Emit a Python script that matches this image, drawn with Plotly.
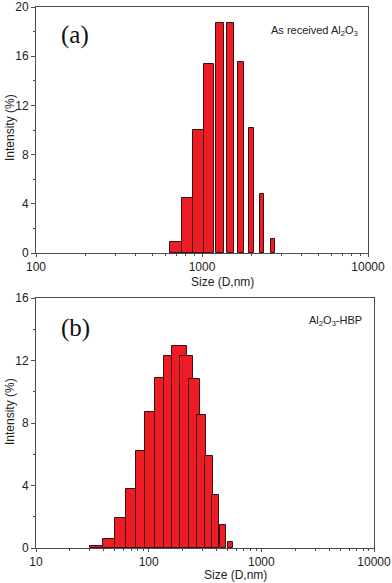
import plotly.graph_objects as go

# Panel (a): as received Al2O3
size_a = [712.4, 825.0, 955.4, 1106, 1281, 1484, 1718, 1990, 2305, 2669]
intensity_a = [0.9, 4.5, 10.0, 15.4, 18.7, 18.7, 15.5, 10.2, 4.8, 1.1]

# Panel (b): Al2O3-HBP
size_b = [58.77, 68.06, 78.82, 91.28, 105.7, 122.4, 141.8, 164.2, 190.1, 220.2,
          255.0, 295.3, 342.0, 396.1, 458.7, 531.2]
intensity_b = [0.1, 0.6, 1.9, 3.8, 6.2, 8.7, 10.9, 12.3, 12.9, 12.3,
               10.8, 8.5, 5.9, 3.4, 1.5, 0.4]

x_ticks_a = [100, 1000, 10000]
x_ticks_b = [10, 100, 1000, 10000]

BAR_FILL = "#EE1C25"
BAR_LINE = "#3a1010"
AXIS_COL = "#4d4d4d"
TXT = "#222222"
FONT = "Liberation Sans, Arial, sans-serif"
SERIF = "Liberation Serif, Times New Roman, serif"

fig = go.Figure()
fig.add_trace(go.Bar(x=size_a, y=intensity_a, width=145, xaxis="x", yaxis="y",
                     marker=dict(color=BAR_FILL, line=dict(color=BAR_LINE, width=1)),
                     showlegend=False))
fig.add_trace(go.Bar(x=size_b, y=intensity_b, width=57.4, xaxis="x2", yaxis="y2",
                     marker=dict(color=BAR_FILL, line=dict(color=BAR_LINE, width=1)),
                     showlegend=False))


def minor_vals(lo, hi):
    out = []
    for e in range(lo, hi):
        for k in range(2, 10):
            out.append(k * 10 ** e)
    return out


common_x = dict(type="log", showline=True, linecolor=AXIS_COL, linewidth=1, mirror=True,
                ticks="outside", ticklen=3, tickcolor=AXIS_COL, showgrid=False, zeroline=False,
                automargin=False, tickfont=dict(family=FONT, size=12, color=TXT))
common_y = dict(showline=True, linecolor=AXIS_COL, linewidth=1, mirror=True,
                ticks="outside", ticklen=4, tickcolor=AXIS_COL, showgrid=False, zeroline=False,
                automargin=False, tickfont=dict(family=FONT, size=12, color=TXT), dtick=4, tick0=0,
                minor=dict(ticks="outside", ticklen=2, dtick=2, tick0=0, tickcolor=AXIS_COL))

L, R, T, B = 36, 18, 7, 35
PW = 392 - L - R
PH = 583 - T - B


def px(x):
    return (x - L) / PW


def py(y):
    return (583 - B - y) / PH


fig.update_layout(
    width=392, height=583,
    margin=dict(l=L, r=R, t=T, b=B),
    plot_bgcolor="white", paper_bgcolor="white",
    bargap=0,
    xaxis=dict(common_x, domain=[0, px(368)], range=[2, 4], anchor="y",
               tickmode="array", tickvals=x_ticks_a, ticktext=[str(v) for v in x_ticks_a],
               minor=dict(ticks="outside", ticklen=2, tickcolor=AXIS_COL,
                          tickmode="array", tickvals=minor_vals(2, 4))),
    yaxis=dict(common_y, domain=[py(253), 1], range=[0, 20], anchor="x"),
    xaxis2=dict(common_x, domain=[0, 1], range=[1, 4], anchor="y2",
                tickmode="array", tickvals=x_ticks_b, ticktext=[str(v) for v in x_ticks_b],
                minor=dict(ticks="outside", ticklen=2, tickcolor=AXIS_COL,
                           tickmode="array", tickvals=minor_vals(1, 4))),
    yaxis2=dict(common_y, domain=[0, py(298)], range=[0, 16], anchor="x2"),
)

tfont = dict(family=FONT, size=12, color=TXT)
ann = [
    dict(text="Size (D,nm)", x=px(222), y=py(282), font=tfont),
    dict(text="Size (D,nm)", x=px(235), y=py(575), font=tfont),
    dict(text="Intensity (%)", x=px(10), y=py(128), textangle=-90, font=tfont),
    dict(text="Intensity (%)", x=px(10), y=py(412), textangle=-90, font=tfont),
    dict(text="(a)", x=px(75), y=py(35), font=dict(family=SERIF, size=25, color="#111")),
    dict(text="(b)", x=px(75), y=py(328), font=dict(family=SERIF, size=25, color="#111")),
    dict(text="As received Al<sub>2</sub>O<sub>3</sub>", x=px(314), y=py(31),
         font=dict(family=FONT, size=11, color=TXT)),
    dict(text="Al<sub>2</sub>O<sub>3</sub>-HBP", x=px(335), y=py(321),
         font=dict(family=FONT, size=11, color=TXT)),
]
for a in ann:
    a.update(xref="paper", yref="paper", showarrow=False, xanchor="center", yanchor="middle")
fig.update_layout(annotations=ann)

fig.write_html("out.html", config={"displayModeBar": False},
               post_script="document.body.style.margin='0';document.body.style.overflow='hidden';")
